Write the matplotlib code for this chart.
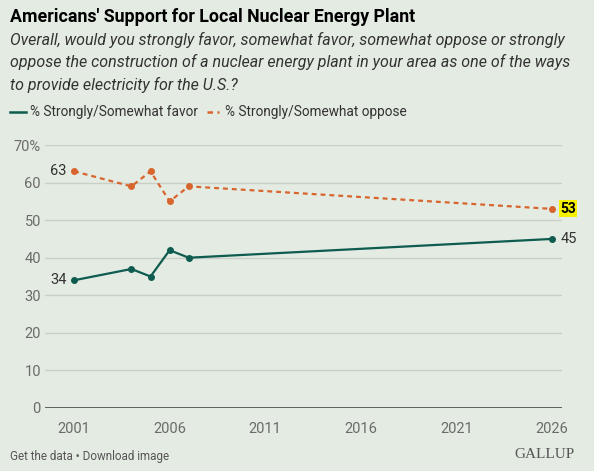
import matplotlib
matplotlib.use('Agg')
import matplotlib.pyplot as plt

# ---------------------------------------------------------------------------
# Data
# ---------------------------------------------------------------------------
years = [2001, 2004, 2005, 2006, 2007, 2026]
favor = [34, 37, 35, 42, 40, 45]
oppose = [63, 59, 63, 55, 59, 53]
x_ticks = [2001, 2006, 2011, 2016, 2021, 2026]
y_ticks = [0, 10, 20, 30, 40, 50, 60, 70]
y_labels = ['0', '10', '20', '30', '40', '50', '60', '70%']

BG = '#e4ebe2'
TEAL = '#0d5c4f'
ORANGE = '#d8652d'
GRID = '#c9cfc7'
TICK = '#6b6b6b'

plt.rcParams['font.family'] = ['Roboto', 'DejaVu Sans']

fig = plt.figure(figsize=(5.94, 4.71), dpi=100)
fig.patch.set_facecolor(BG)
ax = fig.add_axes([0.0758, 0.1338, 0.870, 0.5583])
ax.set_facecolor(BG)

ax.plot(years, favor, color=TEAL, linewidth=1.6, marker='o', markersize=4,
        zorder=3)
ax.plot(years, oppose, color=ORANGE, linewidth=1.6, linestyle=(0, (2.2, 1.8)),
        marker='o', markersize=4, zorder=3)

ax.set_xlim(1999.48, 2026.52)
ax.set_ylim(0, 70)
ax.set_xticks(x_ticks)
ax.set_xticklabels([str(x) for x in x_ticks])
ax.set_yticks(y_ticks)
ax.set_yticklabels(y_labels)
ax.tick_params(axis='both', length=0, labelsize=10.5, labelcolor=TICK)
ax.tick_params(axis='x', pad=10)
ax.tick_params(axis='y', pad=3)
ax.grid(axis='y', color=GRID, linewidth=1.0)
for s in ax.spines.values():
    s.set_visible(False)
ax.axhline(0, color='#4a4a4a', linewidth=1.2, zorder=2)

# end labels
ax.annotate(str(oppose[0]), (years[0], oppose[0]), xytext=(-5.5, 0),
            textcoords='offset points', ha='right', va='center',
            fontsize=10.5, color='#333333')
ax.annotate(str(favor[0]), (years[0], favor[0]), xytext=(-5.5, 0),
            textcoords='offset points', ha='right', va='center',
            fontsize=10.5, color='#333333')
ax.annotate(str(favor[-1]), (years[-1], favor[-1]), xytext=(6, 0),
            textcoords='offset points', ha='left', va='center',
            fontsize=10.5, color='#333333')
ax.annotate(str(oppose[-1]), (years[-1], oppose[-1]), xytext=(6, 0),
            textcoords='offset points', ha='left', va='center',
            fontsize=10, color='black', fontweight='bold',
            bbox=dict(boxstyle='square,pad=0.1', facecolor='#f4f000',
                      edgecolor='none'))

# titles
fig.text(0.017, 0.964, "Americans' Support for Local Nuclear Energy Plant",
         fontsize=12.8, fontweight='bold', color='black', va='center')
subtitle = ("Overall, would you strongly favor, somewhat favor, somewhat oppose or strongly\n"
            "oppose the construction of a nuclear energy plant in your area as one of the ways\n"
            "to provide electricity for the U.S.?")
fig.text(0.017, 0.933, subtitle, fontsize=11.5, fontstyle='italic',
         color='#333333', va='top', linespacing=1.52)

# legend
fig.lines.append(plt.Line2D([0.017, 0.043], [0.762, 0.762], color=TEAL,
                            linewidth=1.8, transform=fig.transFigure))
fig.text(0.050, 0.762, '% Strongly/Somewhat favor', fontsize=9.8,
         color='#333333', va='center')
fig.lines.append(plt.Line2D([0.348, 0.369], [0.762, 0.762], color=ORANGE,
                            linewidth=1.8, linestyle=(0, (2.2, 1.8)),
                            transform=fig.transFigure))
fig.text(0.379, 0.762, '% Strongly/Somewhat oppose', fontsize=9.8,
         color='#333333', va='center')

# footer
fig.text(0.017, 0.031, 'Get the data \u2022 Download image', fontsize=8.4,
         color='#555555', va='center')
fig.text(0.968, 0.034, 'GALLUP', fontsize=11, family='Liberation Serif',
         color='#555555', va='center', ha='right')

fig.savefig('out.png', dpi=100, facecolor=BG)
